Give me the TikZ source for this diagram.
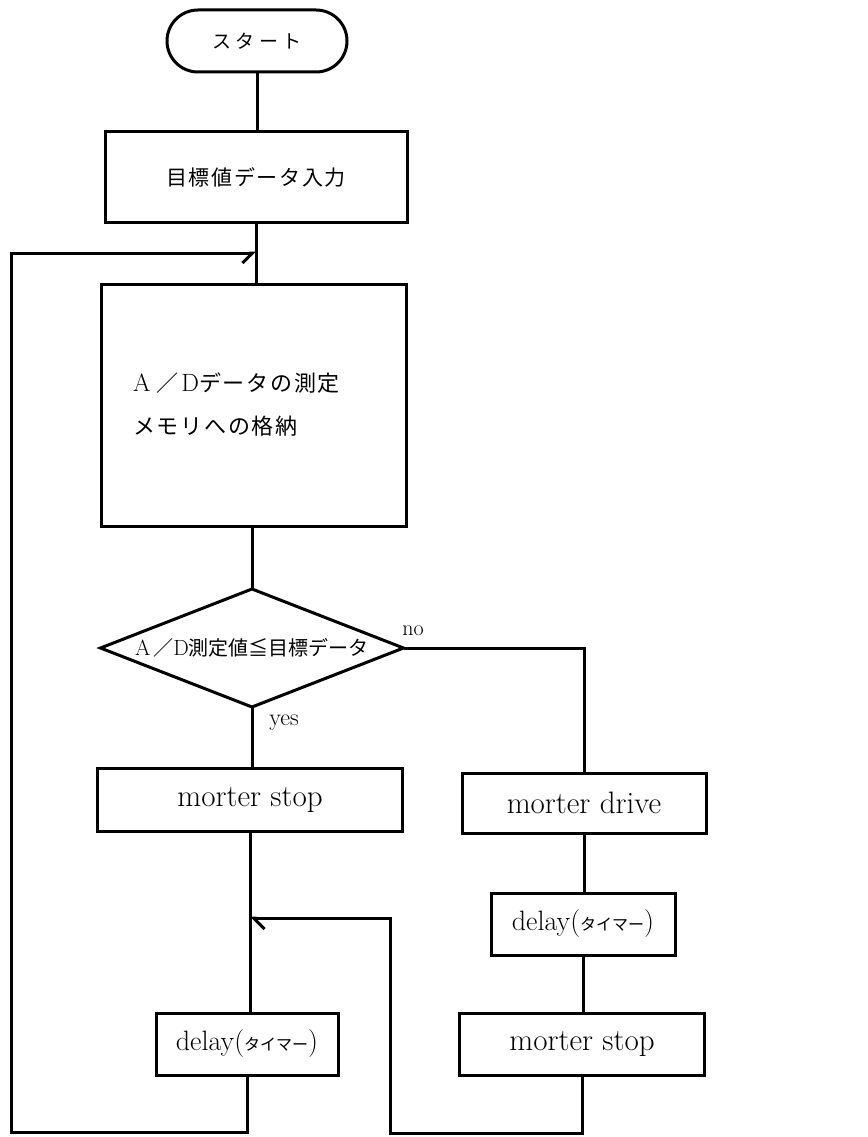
\documentclass[tikz,border=0pt]{standalone}
\usepackage{fontspec}
\usetikzlibrary{shapes.geometric,arrows.meta}
\newfontfamily\jp{Noto Sans CJK JP}
\newfontfamily\jpsp{Noto Sans CJK JP}[LetterSpace=22]
\newfontfamily\jpl{Noto Sans CJK JP}[LetterSpace=8]
\newcommand\kana{\jp\fontsize{16pt}{18pt}\selectfont}
\newcommand\bigAD[1]{{\fontsize{#1}{#1}\selectfont}}
\begin{document}
\begin{tikzpicture}[x=1pt,y=-1pt,
  every node/.style={inner sep=0pt, outer sep=0pt},
  box/.style={draw, rectangle, line width=3pt},
  decision/.style={draw, diamond, aspect=2.57, line width=3pt},
  conn/.style={line width=3pt},
  mtext/.style={font=\fontsize{31pt}{34pt}\selectfont},
  dtext/.style={font=\fontsize{28pt}{32pt}\selectfont},
  barbup/.style={-{Straight Barb[length=10pt,width=20pt,right]}},
  barbdown/.style={-{Straight Barb[length=11pt,width=22pt,left]}}]
\useasboundingbox (0,0) rectangle (867,1137);

% nodes
\node[box, rounded corners=31pt, minimum width=180pt, minimum height=62pt,
  font=\jpsp\fontsize{19pt}{22pt}\selectfont] (start) at (257,41) {スタート};
\node[box, minimum width=302pt, minimum height=90pt,
  font=\jpl\fontsize{21pt}{24pt}\selectfont] (b1) at (256,177) {目標値データ入力};
\node[box, minimum width=305pt, minimum height=242pt, text width=242pt, align=left,
  font=\fontsize{22pt}{43pt}\selectfont] (b2) at (254,405)
  {{\fontsize{25pt}{43pt}\selectfont A}\hspace{6pt}{\jp ／}\hspace{3pt}{\fontsize{25pt}{43pt}\selectfont D}{\jpl データの測定}\\{\jpl メモリへの格納}};
\node[decision, minimum width=303pt, minimum height=118pt,
  font=\fontsize{20pt}{22pt}\selectfont] (dia) at (252,648)
  {{\fontsize{22pt}{22pt}\selectfont A}\hspace{3pt}{\jp ／}{\fontsize{22pt}{22pt}\selectfont D}{\jp 測定値≦目標データ}};
\node[box, mtext, minimum width=305pt, minimum height=63pt] (msL) at (250,800) {morter stop};
\node[box, mtext, minimum width=244pt, minimum height=60pt] (msD) at (584,803) {morter drive};
\node[box, dtext, minimum width=184pt, minimum height=62pt] (dR) at (583,924) {delay({\kana タイマー})};
\node[box, dtext, minimum width=182pt, minimum height=62pt] (dL) at (247,1044) {delay({\kana タイマー})};
\node[box, mtext, minimum width=245pt, minimum height=62pt] (msR) at (582,1044) {morter stop};

% labels
\node[font=\fontsize{24pt}{26pt}\selectfont] (yes) at (284,723) {yes};
\node[font=\fontsize{22pt}{24pt}\selectfont] (no) at (413,631) {no};

% coordinates
\coordinate (J) at (b1.south |- 0,253);
\coordinate (LB) at (dL.south |- 0,1132);
\coordinate (LL) at (11,1132);
\coordinate (LT) at (11,253);
\coordinate (K) at (msL.south |- 0,918);
\coordinate (RB) at (msR.south |- 0,1133);
\coordinate (MB) at (390,1133);
\coordinate (MT) at (390,918);

% connectors
\draw[conn] (start.south) -- (start.south |- b1.north);
\draw[conn] (b1.south) -- (b1.south |- b2.north);
\draw[conn] (b2.south -| dia.north) -- (dia.north);
\draw[conn] (dia.south) -- (dia.south |- msL.north);
\draw[conn] (dia.east) -| (msD.north);
\draw[conn] (msL.south) -- (msL.south |- dL.north);
\draw[conn] (msD.south) -- (msD.south |- dR.north);
\draw[conn] (dR.south) -- (dR.south |- msR.north);
\draw[conn, barbup] (dL.south) -- (LB) -- (LL) -- (LT) -- (J);
\draw[conn, barbdown] (msR.south) -- (RB) -- (MB) -- (MT) -- (K);
\end{tikzpicture}
\end{document}
